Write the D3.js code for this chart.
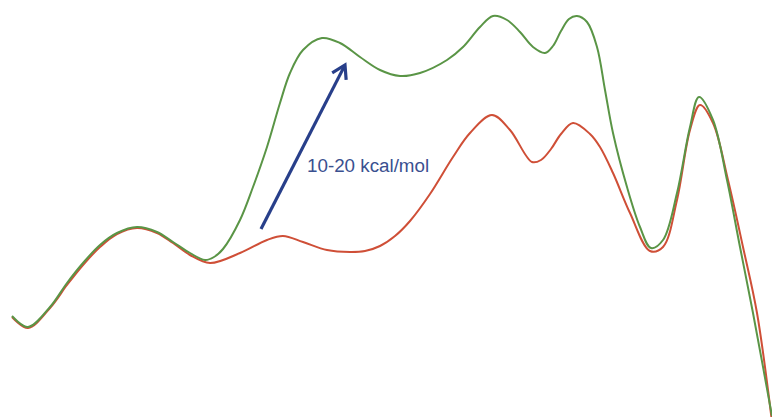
<!DOCTYPE html>
<html>
<head>
<meta charset="utf-8">
<script src="https://cdn.jsdelivr.net/npm/d3@7/dist/d3.min.js"></script>
<style>
html,body{margin:0;padding:0;background:#fff;}
svg{display:block;}
</style>
</head>
<body>
<svg id="chart" width="772" height="417"></svg>
<script>
// Reaction coordinate (x) and relative energy (y)
const greenX = [12,28,50,67,83,100,117,137,157,173,190,205,214,223,240,253,267,280,290,303,322,340,360,380,400,420,447,463,480,493,507,520,533,545,553,561,569,577,587,597,605,613,627,640,651,663,677,690,699,713,727,740,753,772];
const greenY = [101,90,110,134,154,172,184,190,185,175,164,157,160,168,197,230,270,314,344,367,379,374,360,347,341,344,357,370,390,401,397,385,370,364,371,386,398,401,395,370,327,284,230,190,169,177,224,290,320,297,237,170,104,1];
const redX = [12,28,50,67,83,100,117,137,157,173,190,210,240,267,283,303,327,350,365,380,395,410,430,453,470,492,510,532,541,551,561,573,590,600,613,630,650,663,677,690,700,713,728,743,757,772];
const redY = [100,89,109,132,152,170,183,189,184,174,162,154,164,177,181,175,167,165,166,171,181,196,223,260,284,302,287,255,257,268,283,294,283,270,244,204,166,170,217,287,312,294,237,170,104,-5];
const label = "10-20 kcal/mol";
const arrowFrom = [261,188];
const arrowTo = [345,352];

const W = 772, H = 417;
const svg = d3.select("#chart");
const x = d3.scaleLinear().domain([0,772]).range([0,W]);
const y = d3.scaleLinear().domain([0,417]).range([H,0]);

const line = d3.line().x(d=>x(d[0])).y(d=>y(d[1])).curve(d3.curveCatmullRom.alpha(0.5));

svg.append("path").datum(redX.map((v,i)=>[v,redY[i]]))
  .attr("d",line).attr("fill","none").attr("stroke","#cf4f37").attr("stroke-width",2);
svg.append("path").datum(greenX.map((v,i)=>[v,greenY[i]]))
  .attr("d",line).attr("fill","none").attr("stroke","#5a9546").attr("stroke-width",2);

// arrow
const x1 = x(arrowFrom[0]), y1 = y(arrowFrom[1]), x2 = x(arrowTo[0]), y2 = y(arrowTo[1]);
const ang = Math.atan2(y2-y1, x2-x1);
svg.append("line").attr("x1",x1).attr("y1",y1).attr("x2",x2-Math.cos(ang)*1).attr("y2",y2-Math.sin(ang)*1)
  .attr("stroke","#283f8a").attr("stroke-width",3.2);
const hl = 15, ha = 0.55;
const p1 = [x2 - hl*Math.cos(ang-ha), y2 - hl*Math.sin(ang-ha)];
const p2 = [x2 - hl*Math.cos(ang+ha), y2 - hl*Math.sin(ang+ha)];
svg.append("path").attr("d",`M${p1[0]},${p1[1]}L${x2},${y2}L${p2[0]},${p2[1]}`)
  .attr("fill","none").attr("stroke","#283f8a").attr("stroke-width",3.2)
  .attr("stroke-linejoin","miter").attr("stroke-linecap","butt");

svg.append("text").attr("x",307).attr("y",172).text(label)
  .attr("font-family","Liberation Sans, Arial, sans-serif").attr("font-size",18.8)
  .attr("fill","#3a5090");
</script>
</body>
</html>
